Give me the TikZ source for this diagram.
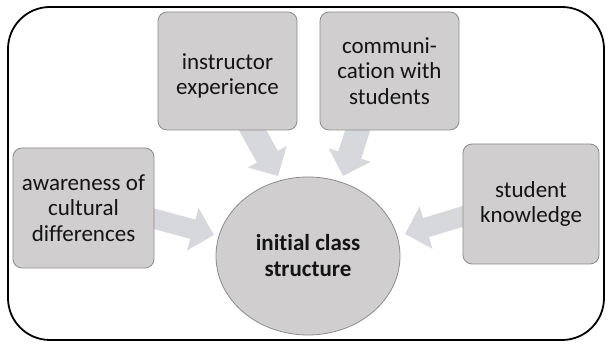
\documentclass[tikz,border=0pt]{standalone}
\usepackage{fontspec}
\setmainfont{Carlito}[Ligatures={NoCommon}]
\usetikzlibrary{shapes.geometric,arrows.meta}
\definecolor{boxfill}{RGB}{208,206,206}
\definecolor{boxline}{RGB}{140,140,140}
\definecolor{flowfill}{RGB}{214,216,220}
\definecolor{inktext}{RGB}{20,20,20}
\tikzset{
  factor/.style={draw=boxline, line width=0.8pt, fill=boxfill, rounded corners=9pt,
    align=center, inner sep=0pt, text=inktext, font=\fontsize{23}{25.5}\selectfont},
  hub/.style={ellipse, draw=boxline, line width=0.8pt, fill=boxfill, inner sep=0pt,
    align=center, text=inktext, font=\bfseries\fontsize{23}{26}\selectfont},
  flow/.style={draw=flowfill, line width=24pt,
    -{Triangle[length=22pt, width=43pt, fill=flowfill]}},
  sideflow/.style={flow, line width=20pt, -{Triangle[length=22pt, width=43pt, fill=flowfill]}},
  frame/.style={draw=black, line width=1.8pt, rounded corners=42pt}
}
\begin{document}
\begin{tikzpicture}[x=1pt, y=-1pt]
  \useasboundingbox (0,0) rectangle (606,344);
  % outer frame
  \draw[frame] (8,7) rectangle (604,340);

  % arrow ends (drawn first so the boxes cover the shaft starts)
  \coordinate (i0) at (247,120);
  \coordinate (i1) at (278,176);
  \coordinate (c0) at (361,120);
  \coordinate (c1) at (343,176);
  \coordinate (w0) at (144,216);
  \coordinate (w1) at (214,235);
  \coordinate (s0) at (474,213);
  \coordinate (s1) at (405,234);
  \draw[flow] (i0) -- (i1);
  \draw[flow] (c0) -- (c1);
  \draw[sideflow] (w0) -- (w1);
  \draw[sideflow] (s0) -- (s1);

  % factors
  \node[factor, minimum width=139pt, minimum height=118pt] (instr) at (227.5,71)
    {\rule{0pt}{26pt}instructor\\experience};
  \node[factor, minimum width=139pt, minimum height=118pt] (comm) at (389.5,71)
    {communi-\\cation with\\students};
  \node[factor, minimum width=141pt, minimum height=120pt] (aware) at (83.5,208)
    {awareness of\\cultural\\differences};
  \node[factor, minimum width=136pt, minimum height=120pt] (stud) at (531,204)
    {student\\knowledge};

  % central outcome
  \node[hub, minimum width=184pt, minimum height=158pt] (core) at (308,256)
    {initial class\\structure};
\end{tikzpicture}
\end{document}
